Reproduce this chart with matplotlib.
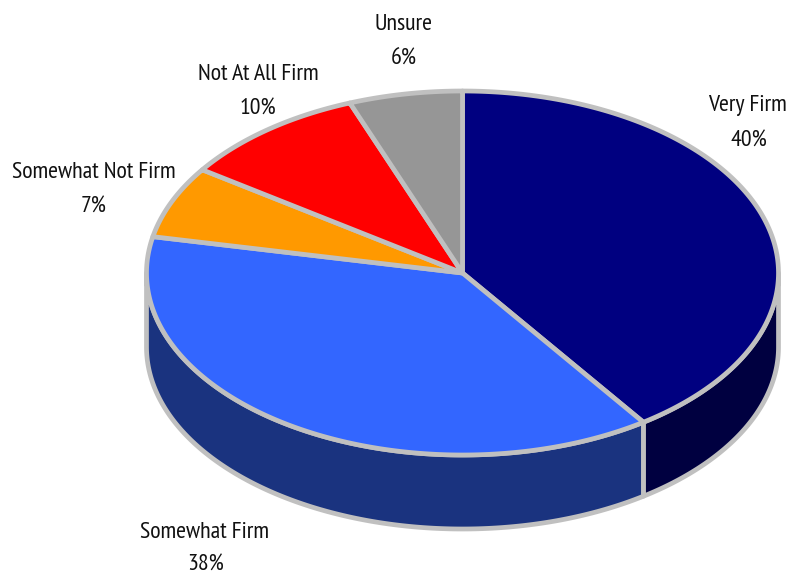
import numpy as np
import matplotlib
matplotlib.use("Agg")
import matplotlib.pyplot as plt
from matplotlib.patches import Polygon

labels = ["Very Firm", "Somewhat Firm", "Somewhat Not Firm", "Not At All Firm", "Unsure"]
shown = ["40%", "38%", "7%", "10%", "6%"]
values = [40.3, 37.9, 6.4, 9.6, 5.8]
top_colors = ["#000080", "#3366FF", "#FF9900", "#FF0000", "#969696"]
side_colors = ["#000040", "#1A337F", "#7F4C00", "#7F0000", "#4B4B4B"]
name_xy = [(747, 106), (205, 532), (94, 173), (258, 74), (404, 24)]
pct_xy = [(749, 141), (206, 565), (94, 207), (258, 109), (404, 59)]

CX, CY, RX, RY, DEPTH = 462.5, 273, 316, 182, 74
EDGE = "#C0C0C0"
LW = 3.4

plt.rcParams["font.family"] = ["PT Sans Narrow", "Archivo Narrow", "Liberation Sans", "DejaVu Sans"]
fig = plt.figure(figsize=(7.86, 5.75), dpi=100)
ax = fig.add_axes([0, 0, 1, 1])
ax.set_xlim(0, 786)
ax.set_ylim(575, 0)
ax.axis("off")


def rim(t0, t1, dy=0, n=200):
    t = np.radians(np.linspace(t0, t1, n))
    return np.column_stack([CX + RX * np.sin(t), CY + dy - RY * np.cos(t)])


edges = np.concatenate([[0], np.cumsum(values)]) * 360 / sum(values)

for i in range(len(values)):
    a, b = max(edges[i], 90), min(edges[i + 1], 270)
    if a < b:
        top = rim(a, b)
        bot = rim(a, b, DEPTH)[::-1]
        ax.add_patch(Polygon(np.vstack([top, bot]), closed=True, fc=side_colors[i],
                             ec=EDGE, lw=LW, joinstyle="round", zorder=2))

for i in range(len(values)):
    pts = np.vstack([[CX, CY], rim(edges[i], edges[i + 1])])
    ax.add_patch(Polygon(pts, closed=True, fc=top_colors[i], ec=EDGE, lw=LW,
                         joinstyle="round", zorder=3))

for name, pct, nxy, pxy in zip(labels, shown, name_xy, pct_xy):
    ax.text(*nxy, name, ha="center", va="center", fontsize=17.2, color="#111111")
    ax.text(*pxy, pct, ha="center", va="center", fontsize=17.2, color="#111111")

fig.savefig("out.png", dpi=100, facecolor="white")
